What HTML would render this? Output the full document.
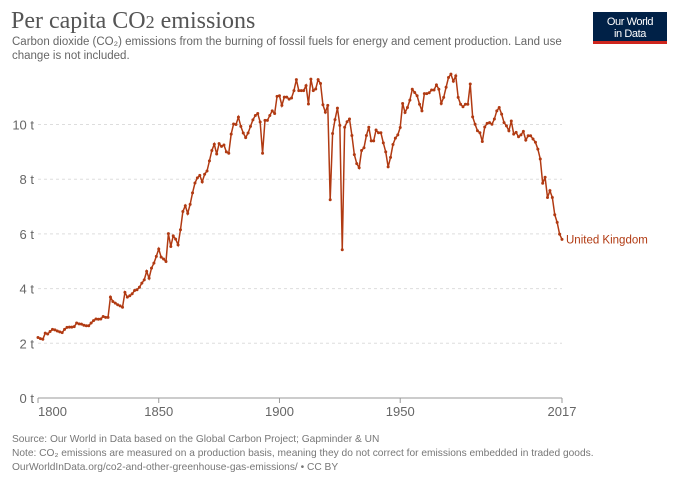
<!DOCTYPE html>
<html><head><meta charset="utf-8"><style>
body{margin:0;background:#fff;width:680px;height:480px;overflow:hidden;font-family:"Liberation Sans",sans-serif}
svg{display:block}
</style></head><body>
<svg width="680" height="480">
<text x="11" y="28" font-family="Liberation Serif,serif" font-size="24" fill="#555">Per capita CO<tspan font-size="18">2</tspan> emissions</text>
<text x="12" y="45" font-size="11.5" fill="#666">Carbon dioxide (CO₂) emissions from the burning of fossil fuels for energy and cement production. Land use</text>
<text x="12" y="59" font-size="11.5" fill="#666">change is not included.</text>
<g>
<rect x="593" y="12" width="74" height="32" fill="#002147"/>
<rect x="593" y="41" width="74" height="3" fill="#ce261e"/>
<text x="630" y="25" font-size="11" fill="#fff" text-anchor="middle" letter-spacing="-0.4">Our World</text>
<text x="630" y="37" font-size="11" fill="#fff" text-anchor="middle" letter-spacing="-0.4">in Data</text>
</g>
<g id="grid"></g>
<g id="axes"></g>
<g id="series"></g>
<text x="12" y="442" font-size="10.2" fill="#777">Source: Our World in Data based on the Global Carbon Project; Gapminder &amp; UN</text>
<text x="12" y="456" font-size="10.2" fill="#777">Note: CO₂ emissions are measured on a production basis, meaning they do not correct for emissions embedded in traded goods.</text>
<text x="12" y="470" font-size="10.2" fill="#777">OurWorldInData.org/co2-and-other-greenhouse-gas-emissions/ • CC BY</text>
</svg>
<script>
const startYear = 1800;
const yTicks = [0,2,4,6,8,10];
const yTickLabels = ["0 t","2 t","4 t","6 t","8 t","10 t"];
const xTicks = [1800,1850,1900,1950,2017];
const ukValues = [
2.21,2.17,2.15,2.37,2.34,2.43,2.51,2.49,2.45,2.42,
2.39,2.51,2.58,2.59,2.59,2.61,2.74,2.71,2.70,2.66,
2.64,2.64,2.74,2.83,2.89,2.88,2.89,2.98,2.95,2.95,
3.69,3.53,3.47,3.41,3.37,3.32,3.86,3.69,3.74,3.81,
3.93,3.96,4.05,4.20,4.32,4.63,4.38,4.75,4.93,5.18,
5.45,5.15,5.08,4.99,6.01,5.54,5.93,5.81,5.60,6.15,
6.82,7.03,6.75,7.08,7.50,7.86,8.05,8.14,7.90,8.18,
8.30,8.67,9.05,9.28,8.92,9.30,9.20,9.25,9.00,8.95,
9.65,10.02,10.00,10.27,9.93,9.69,9.52,9.69,9.93,10.17,
10.33,10.40,10.09,8.95,10.15,10.15,10.33,10.50,10.40,11.03,
11.05,10.70,11.00,11.00,10.93,10.97,11.24,11.64,11.24,11.24,
11.24,11.42,10.75,11.66,11.24,11.30,11.64,11.50,10.72,10.45,
10.70,7.25,9.67,10.18,10.60,9.97,5.42,9.90,10.10,10.20,
9.60,8.90,8.57,8.42,9.05,9.15,9.60,9.90,9.40,9.40,
9.80,9.70,9.70,9.33,9.00,8.45,8.80,9.27,9.50,9.62,
9.89,10.77,10.44,10.62,10.89,11.29,11.17,11.05,10.74,10.50,
11.13,11.13,11.16,11.26,11.26,11.45,11.29,10.77,10.99,11.36,
11.72,11.84,11.58,11.78,10.99,10.74,10.65,10.74,10.74,11.48,
10.28,10.01,9.77,9.70,9.38,9.91,10.04,10.07,10.01,10.20,
10.50,10.62,10.38,10.07,9.95,9.77,10.13,9.65,9.71,9.55,
9.62,9.75,9.43,9.59,9.59,9.47,9.35,9.10,8.74,7.85,
8.07,7.33,7.58,7.33,6.70,6.42,5.99,5.80];
const NS="http://www.w3.org/2000/svg";
const x = yr => 38 + (yr-1800)*(524/217);
const y = v => 398 - v*27.35;
function mk(tag, attrs, parent){const e=document.createElementNS(NS,tag);for(const k in attrs)e.setAttribute(k,attrs[k]);document.getElementById(parent).appendChild(e);return e;}
yTicks.forEach((t,i)=>{
  if(t>0){const g=mk('line',{x1:38,x2:562,y1:y(t),y2:y(t),stroke:'#ddd','stroke-dasharray':'3,3'},'grid');
  
  }
  const l=mk('text',{x:34,y:y(t)+5,'font-size':13,fill:'#666','text-anchor':'end'},'axes');
  l.textContent=yTickLabels[i];
  
  
});
const ax=mk('line',{x1:38,x2:562,y1:398,y2:398,stroke:'#999'},'axes');


xTicks.forEach(t=>{
  mk('line',{x1:x(t),x2:x(t),y1:398,y2:403,stroke:'#999'},'axes');
  let anchor='middle';
  if(t===1800){anchor='start';}
  const l=mk('text',{x:x(t),y:416,'font-size':13,fill:'#666','text-anchor':anchor},'axes');
  l.textContent=t;
  
  
});
const pts=ukValues.map((v,i)=>x(startYear+i).toFixed(2)+','+y(v).toFixed(2)).join(' ');
const pl=mk('polyline',{points:pts,fill:'none',stroke:'#b13a12','stroke-width':1.5},'series');


ukValues.forEach((v,i)=>{
  const c=mk('circle',{cx:x(startYear+i),cy:y(v),r:1.5,fill:'#b13a12'},'series');
  
  
});
const last=ukValues[ukValues.length-1];
const lb=mk('text',{x:566,y:y(last)+4,'font-size':11.5,fill:'#b13a12'},'series');
lb.textContent='United Kingdom';


</script>
</body></html>
